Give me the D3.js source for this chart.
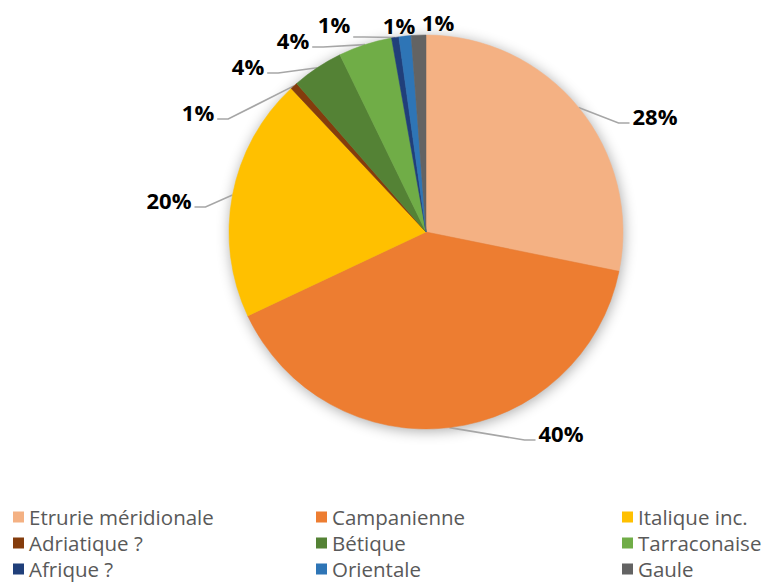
<!DOCTYPE html>
<html>
<head>
<meta charset="utf-8">
<script src="https://cdn.jsdelivr.net/npm/d3@7"></script>
<style>
  html, body { margin: 0; padding: 0; background: #ffffff; }
  svg { display: block; }
</style>
</head>
<body>
<svg id="chart" width="765" height="585"></svg>
<script>
// Origine des amphores (% du total)
const categories = [
  "Etrurie méridionale", "Campanienne", "Italique inc.",
  "Adriatique ?", "Bétique", "Tarraconaise",
  "Afrique ?", "Orientale", "Gaule"
];
const values = [28.2, 39.8, 20.0, 0.6, 4.2, 4.4, 0.6, 1.0, 1.2];
const colors = [
  "#F4B183", "#ED7D31", "#FFC000",
  "#843C0C", "#548235", "#70AD47",
  "#203F7A", "#2E75B6", "#636363"
];

// Label placement around the pie (offsets from the pie centre), whether a
// leader line is drawn, and where that line meets the label vertically.
const labelLayout = [
  { dx: 229, dy: -116, line: true, ly: 7 },
  { dx: 135, dy: 201, line: true, ly: 7 },
  { dx: -257, dy: -32, line: true, ly: 7 },
  { dx: -228, dy: -120, line: true, ly: 7 },
  { dx: -178, dy: -166, line: true, ly: 7 },
  { dx: -133, dy: -192, line: true, ly: 7 },
  { dx: -92, dy: -208, line: true, ly: 13 },
  { dx: -27, dy: -207, line: false, ly: 0 },
  { dx: 12, dy: -210, line: false, ly: 0 }
];

const cx = 426, cy = 232, R = 197;

const svg = d3.select("#chart");
const total = d3.sum(values);
const data = categories.map((c, i) => ({ name: c, value: values[i], layout: labelLayout[i] }));

const color = d3.scaleOrdinal().domain(categories).range(colors);

// soft shadow beneath the pie
const defs = svg.append("defs");
const f = defs.append("filter").attr("id", "pieShadow")
  .attr("x", "-30%").attr("y", "-30%").attr("width", "160%").attr("height", "160%");
f.append("feGaussianBlur").attr("in", "SourceAlpha").attr("stdDeviation", 7).attr("result", "b");
f.append("feOffset").attr("in", "b").attr("dx", 1).attr("dy", 2).attr("result", "o");
f.append("feComponentTransfer").attr("in", "o")
  .append("feFuncA").attr("type", "linear").attr("slope", 0.34);

const g = svg.append("g").attr("transform", `translate(${cx},${cy})`);

const pie = d3.pie().sort(null).value(d => d.value);
const arcs = pie(data);
const arc = d3.arc().innerRadius(0).outerRadius(R);

// shadow disc
g.append("circle").attr("r", R).attr("fill", "#000").attr("filter", "url(#pieShadow)");

const fmt = v => Math.round(v * 100 / total) + "%";
const labelFont = "'Open Sans', 'DejaVu Sans', sans-serif";

// leader lines sit under the slices
const lineG = g.append("g");
const sliceG = g.append("g");
const labelG = g.append("g");

sliceG.selectAll("path")
  .data(arcs)
  .join("path")
  .attr("d", arc)
  .attr("fill", d => color(d.data.name))
  .attr("stroke", d => color(d.data.name))
  .attr("stroke-width", 0.5);

arcs.forEach(a => {
  const L = a.data.layout;
  const t = labelG.append("text")
    .attr("x", L.dx).attr("y", L.dy)
    .attr("text-anchor", "middle")
    .attr("dominant-baseline", "central")
    .attr("font-family", labelFont)
    .attr("font-weight", 700)
    .attr("font-size", 22)
    .attr("fill", "#000")
    .text(fmt(a.data.value));
  if (!L.line) return;
  const w = t.node().getComputedTextLength();
  const mid = (a.startAngle + a.endAngle) / 2;
  const sx = Math.sin(mid) * R, sy = -Math.cos(mid) * R;
  const right = L.dx > sx; // label sits to the right of its slice point
  const ex = right ? L.dx - w / 2 - 3 : L.dx + w / 2 + 3;
  const ey = L.dy + L.ly;
  const elx = right ? ex - 11 : ex + 11;
  lineG.append("path")
    .attr("d", d3.line()([[sx, sy], [elx, ey], [ex, ey]]))
    .attr("fill", "none")
    .attr("stroke", "#A6A6A6")
    .attr("stroke-width", 1.6);
});

// legend: 3 columns x 3 rows
const colX = [13, 316, 622];
const rowY = [517, 543, 569];
const legend = svg.append("g");
data.forEach((d, i) => {
  const col = i % 3, row = Math.floor(i / 3);
  const x = colX[col], y = rowY[row];
  legend.append("rect")
    .attr("x", x).attr("y", y - 5.5)
    .attr("width", 11).attr("height", 11)
    .attr("fill", color(d.name));
  legend.append("text")
    .attr("x", x + 16).attr("y", y)
    .attr("dominant-baseline", "central")
    .attr("font-family", "'Open Sans', sans-serif")
    .attr("font-size", 20.5)
    .attr("fill", "#595959")
    .text(d.name);
});
</script>
</body>
</html>
